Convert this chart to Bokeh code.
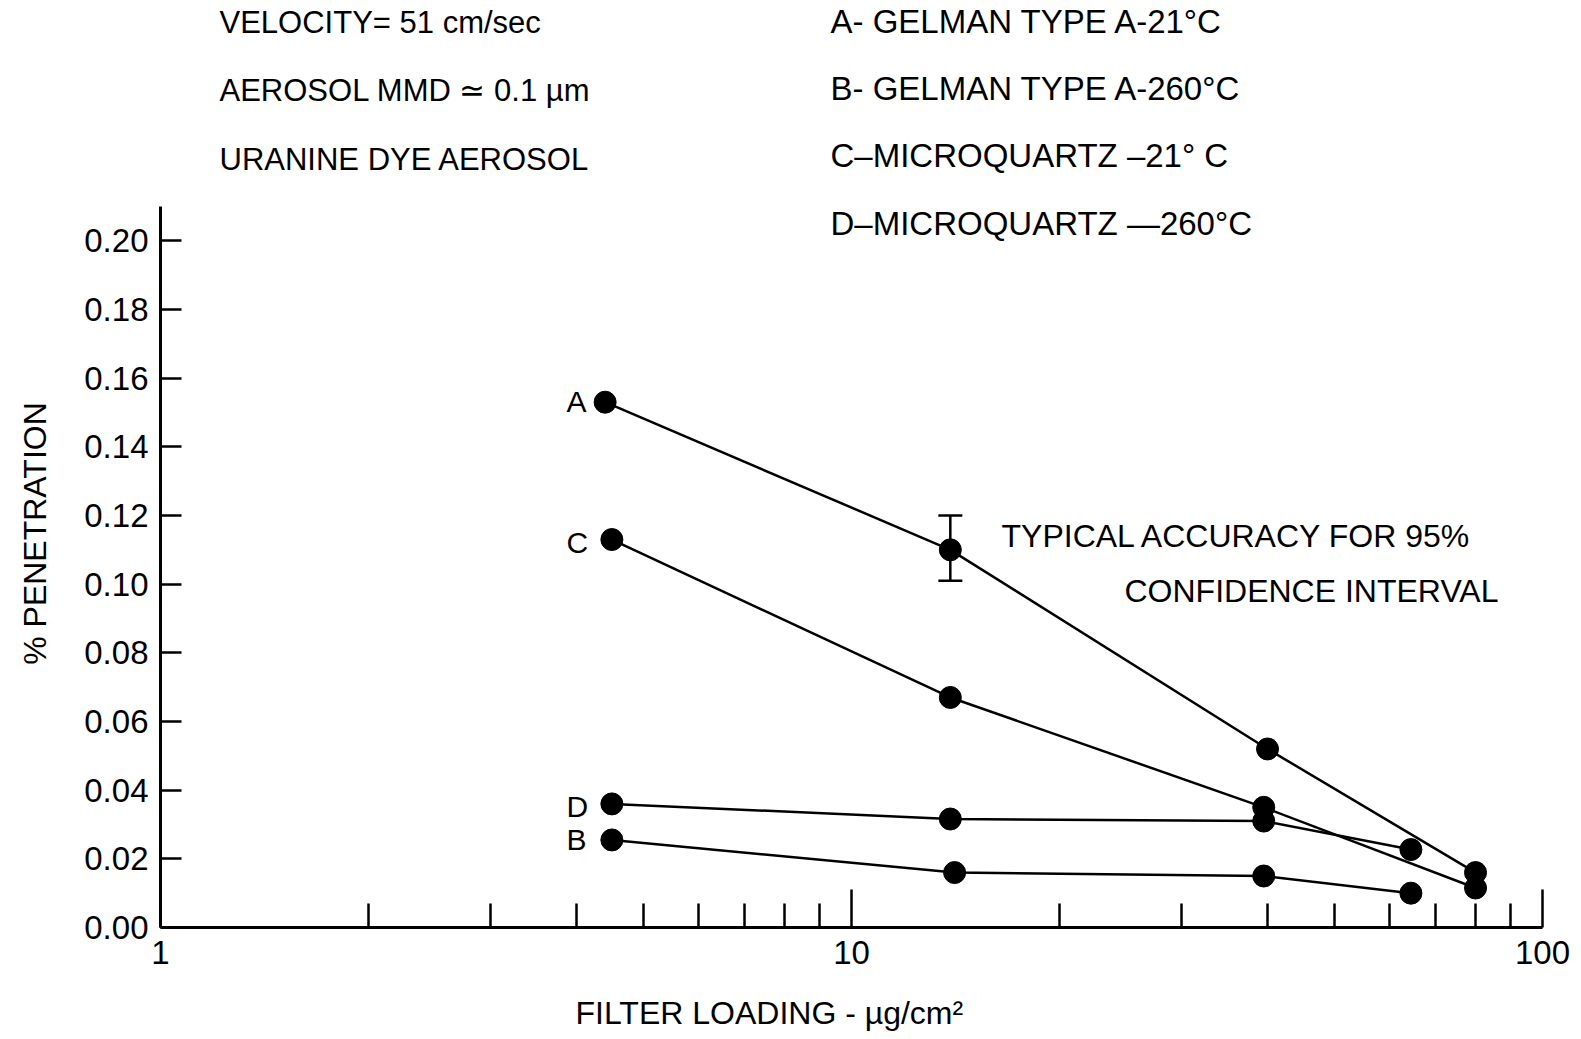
import math

from bokeh.plotting import figure
from bokeh.models import (Range1d, FixedTicker, PrintfTickFormatter, Label,
                          Whisker, TeeHead, ColumnDataSource)
from bokeh.embed import file_html
from bokeh.resources import INLINE

FONT = "Liberation Sans"

# Filter loading (ug/cm2) and % penetration for each filter / temperature
load_a = [4.4, 13.9, 40.0, 80.0]
pen_a = [0.153, 0.110, 0.052, 0.016]

load_b = [4.5, 14.1, 39.5, 64.5]
pen_b = [0.0255, 0.016, 0.015, 0.010]

load_c = [4.5, 13.9, 39.5, 80.0]
pen_c = [0.113, 0.067, 0.035, 0.0115]

load_d = [4.5, 13.9, 39.5, 64.5]
pen_d = [0.036, 0.0316, 0.031, 0.0227]

# Typical 95% confidence interval, shown on curve A
ci_load = 13.9
ci_lower = 0.101
ci_upper = 0.120

x_ticks = [1, 10, 100]
x_minor_ticks = [2, 3, 4, 5, 6, 7, 8, 9, 20, 30, 40, 50, 60, 70, 80, 90]
y_ticks = [0.00, 0.02, 0.04, 0.06, 0.08, 0.10, 0.12, 0.14, 0.16, 0.18, 0.20]

X_BOUNDS = (1, 100)
Y_BOUNDS = (0.0, 0.21)

# Canvas geometry: the plotting frame fills the whole canvas and the axes are
# pinned inside it, so the header and the axis titles can live in the frame too.
W, H = 1581, 1039
ORIGIN_X = 160          # canvas x of loading = 1
DECADE_PX = 691.0       # canvas width of one decade of loading
ORIGIN_Y = 927          # canvas y of penetration = 0
PX_PER_UNIT = 721 / 0.21

x_lo = 10 ** (-ORIGIN_X / DECADE_PX)
x_hi = 10 ** ((W - ORIGIN_X) / DECADE_PX)
y_lo = -(H - ORIGIN_Y) / PX_PER_UNIT
y_hi = ORIGIN_Y / PX_PER_UNIT

p = figure(width=W, height=H, x_axis_type="log",
           x_range=Range1d(x_lo, x_hi), y_range=Range1d(y_lo, y_hi),
           output_backend="svg", toolbar_location=None,
           min_border=0, min_border_left=0, min_border_right=0,
           min_border_top=0, min_border_bottom=0)
p.outline_line_color = None
p.grid.visible = False
p.background_fill_color = "white"
p.border_fill_color = "white"

xa = p.xaxis[0]
xa.fixed_location = 0.0
xa.bounds = X_BOUNDS
xa.ticker = FixedTicker(ticks=x_ticks, minor_ticks=x_minor_ticks)
xa.formatter = PrintfTickFormatter(format="%d")
xa.axis_line_width = 3
xa.axis_line_color = "black"
xa.major_tick_in = 38
xa.major_tick_out = 0
xa.minor_tick_in = 24
xa.minor_tick_out = 0
xa.major_tick_line_width = 2.5
xa.minor_tick_line_width = 2.5
xa.major_tick_line_color = "black"
xa.minor_tick_line_color = "black"
xa.major_label_text_font = FONT
xa.major_label_text_font_size = "33px"
xa.major_label_text_color = "black"
xa.major_label_standoff = 13

ya = p.yaxis[0]
ya.fixed_location = 1.0
ya.bounds = Y_BOUNDS
ya.ticker = FixedTicker(ticks=y_ticks)
ya.formatter = PrintfTickFormatter(format="%.2f")
ya.axis_line_width = 3
ya.axis_line_color = "black"
ya.major_tick_in = 21
ya.major_tick_out = 0
ya.minor_tick_line_color = None
ya.major_tick_line_width = 2.5
ya.major_tick_line_color = "black"
ya.major_label_text_font = FONT
ya.major_label_text_font_size = "33px"
ya.major_label_text_color = "black"
ya.major_label_standoff = 12

# Curves
for xs, ys in [(load_a, pen_a), (load_c, pen_c), (load_d, pen_d), (load_b, pen_b)]:
    p.line(xs, ys, line_color="black", line_width=2.5)
    p.scatter(xs, ys, size=22, fill_color="black", line_color="black")

# Error bar
ci_src = ColumnDataSource(dict(base=[ci_load], lower=[ci_lower], upper=[ci_upper]))
p.add_layout(Whisker(source=ci_src, base="base", lower="lower", upper="upper",
                     dimension="height", line_width=2.5, line_color="black",
                     upper_head=TeeHead(size=24, line_width=2.5, line_color="black"),
                     lower_head=TeeHead(size=24, line_width=2.5, line_color="black")))


def at_px(px, py):
    """Canvas pixel position -> data coordinates."""
    return 10 ** ((px - ORIGIN_X) / DECADE_PX), (ORIGIN_Y - py) / PX_PER_UNIT


BASELINE_SHIFT = 0.37   # em; lifts the text so its baseline sits at py


def add_text(text, px, py, size, align="left", angle=0.0):
    if angle:
        x, y = at_px(px - BASELINE_SHIFT * size, py)
    else:
        x, y = at_px(px, py - BASELINE_SHIFT * size)
    p.add_layout(Label(x=x, y=y, text=text, text_font=FONT,
                       text_font_size=f"{size}px", text_color="black",
                       text_align=align, text_baseline="alphabetic",
                       angle=angle))


add_text("VELOCITY= 51 cm/sec", 219, 33, 31)
add_text("AEROSOL MMD \u2243 0.1 \u00b5m", 219, 101, 31)
add_text("URANINE DYE AEROSOL", 219, 170, 31)

add_text("A- GELMAN TYPE A-21\u00b0C", 830, 33, 33)
add_text("B- GELMAN TYPE A-260\u00b0C", 830, 100, 33)
add_text("C\u2013MICROQUARTZ \u201321\u00b0 C", 830, 167, 33)
add_text("D\u2013MICROQUARTZ \u2014260\u00b0C", 830, 235, 33)

add_text("TYPICAL ACCURACY FOR 95%", 1001, 547, 32)
add_text("CONFIDENCE INTERVAL", 1124, 602, 32)

add_text("A", 566, 412, 30)
add_text("C", 566, 553, 30)
add_text("D", 566, 817, 30)
add_text("B", 566, 850, 30)

add_text("FILTER LOADING - \u00b5g/cm\u00b2", 575, 1024, 32)
add_text("% PENETRATION", 46, 533, 32, align="center", angle=math.pi / 2)

open("out.html", "w").write(file_html(p, INLINE))
